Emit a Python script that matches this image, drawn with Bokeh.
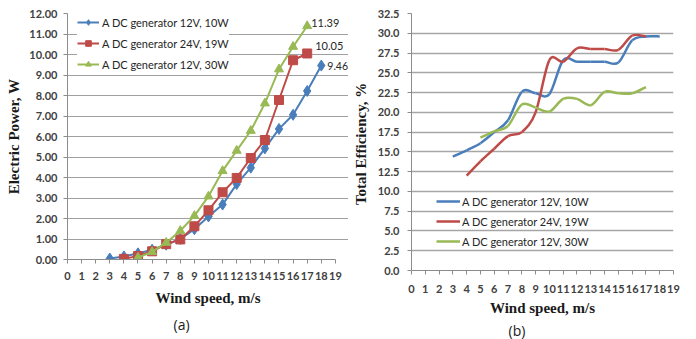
from bokeh.plotting import figure
from bokeh.models import (Range1d, FixedTicker, NumeralTickFormatter, Legend, LegendItem,
                          Label, Title)
from bokeh.layouts import row
from bokeh.embed import file_html
from bokeh.resources import INLINE

# ---------------- data ----------------
series_names = ["A DC generator 12V, 10W", "A DC generator 24V, 19W", "A DC generator 12V, 30W"]

# (a) electric power, W
pow_x_12v10 = [3, 4, 5, 6, 7, 8, 9, 10, 11, 12, 13, 14, 15, 16, 17, 18]
pow_y_12v10 = [0.05, 0.15, 0.30, 0.48, 0.72, 1.00, 1.48, 2.10, 2.68, 3.68, 4.48, 5.42, 6.37, 7.06, 8.22, 9.46]
pow_x_24v19 = [4, 5, 6, 7, 8, 9, 10, 11, 12, 13, 14, 15, 16, 17]
pow_y_24v19 = [0.03, 0.17, 0.40, 0.75, 0.98, 1.62, 2.40, 3.28, 3.98, 4.95, 5.83, 7.78, 9.72, 10.05]
pow_x_12v30 = [5, 6, 7, 8, 9, 10, 11, 12, 13, 14, 15, 16, 17]
pow_y_12v30 = [0.10, 0.37, 0.82, 1.40, 2.13, 3.08, 4.32, 5.31, 6.28, 7.62, 9.28, 10.38, 11.39]

# (b) total efficiency, %
eff_x_12v10 = [3, 4, 5, 6, 7, 8, 9, 10, 11, 12, 13, 14, 15, 16, 17, 18]
eff_y_12v10 = [14.4, 15.2, 16.1, 17.5, 19.0, 22.6, 22.4, 22.3, 26.6, 26.4, 26.4, 26.4, 26.3, 29.1, 29.6, 29.6]
eff_x_24v19 = [4, 5, 6, 7, 8, 9, 10, 11, 12, 13, 14, 15, 16, 17]
eff_y_24v19 = [12.0, 13.8, 15.4, 17.0, 17.5, 20.0, 26.6, 26.4, 28.1, 28.0, 28.0, 27.9, 29.7, 29.6]
eff_x_12v30 = [5, 6, 7, 8, 9, 10, 11, 12, 13, 14, 15, 16, 17]
eff_y_12v30 = [16.8, 17.6, 18.3, 21.0, 20.6, 20.1, 21.7, 21.7, 20.9, 22.6, 22.4, 22.4, 23.2]

x_ticks = list(range(0, 20))
pow_ticks = list(range(0, 13))
eff_ticks = [i * 2.5 for i in range(14)]

colors = ["#4A7EBB", "#BE4B48", "#98B954"]
TICK_FONT = "Lato"
TITLE_FONT = "Liberation Serif"


def style_axes(p, ylabel, yfmt, yticks, x_standoff, x_title_standoff, y_standoff, y_title_standoff):
    p.xaxis.ticker = FixedTicker(ticks=x_ticks)
    p.yaxis.ticker = FixedTicker(ticks=yticks)
    p.yaxis.formatter = NumeralTickFormatter(format=yfmt)
    for ax in (p.xaxis[0], p.yaxis[0]):
        ax.axis_line_color = "#8c8c8c"
        ax.major_tick_line_color = "#8c8c8c"
        ax.major_tick_in = 0
        ax.major_tick_out = 4
        ax.minor_tick_line_color = None
        ax.major_label_text_font = TICK_FONT
        ax.major_label_text_font_size = "11px"
        ax.major_label_text_font_style = "bold"
        ax.major_label_text_color = "#404040"
        ax.axis_label_text_font = TITLE_FONT
        ax.axis_label_text_font_style = "bold"
        ax.axis_label_text_font_size = "15px"
        ax.axis_label_text_color = "#1a1a1a"
    p.xaxis.bounds = (x_ticks[0], x_ticks[-1])
    p.xaxis.axis_label = "Wind speed, m/s"
    p.yaxis.axis_label = ylabel
    p.xaxis.major_label_standoff = x_standoff
    p.xaxis.axis_label_standoff = x_title_standoff
    p.yaxis.major_label_standoff = y_standoff
    p.yaxis.axis_label_standoff = y_title_standoff
    p.xgrid.grid_line_color = None
    p.ygrid.bounds = (x_ticks[0], x_ticks[-1])
    p.outline_line_color = None
    p.background_fill_color = "white"
    p.border_fill_color = "white"


def add_caption(p, text, standoff, offset):
    p.add_layout(Title(text=text, align="left", text_font="Open Sans", text_font_size="14px",
                       text_font_style="normal", text_color="#1a1a1a", standoff=standoff,
                       offset=offset), "below")


# ---------------- (a) ----------------
# frame extends to the canvas edge so the end-value labels are not clipped;
# the axis line and grid stop at 19 through their bounds
pa = figure(frame_width=281, frame_height=246, output_backend="svg", toolbar_location=None,
            x_range=Range1d(0, 19.93), y_range=Range1d(0, 12),
            min_border_left=67, min_border_right=0, min_border_top=13, min_border_bottom=80)
style_axes(pa, "Electric Power, W", "0.00", pow_ticks, 8, 7, 6, 4)
pa.ygrid.grid_line_color = "#a0a0a0"
pa.ygrid.grid_line_width = 1

ra = []
for xs, ys, c, mk, sz in [(pow_x_12v10, pow_y_12v10, colors[0], "diamond", 11),
                          (pow_x_24v19, pow_y_24v19, colors[1], "square", 9),
                          (pow_x_12v30, pow_y_12v30, colors[2], "triangle", 9)]:
    l = pa.line(xs, ys, line_color=c, line_width=2)
    m = pa.scatter(xs, ys, marker=mk, size=sz, fill_color=c, line_color=c)
    ra.append([l, m])

leg_a = Legend(items=[LegendItem(label=n, renderers=r) for n, r in zip(series_names, ra)],
               location=(10, 187), label_text_font="Lato", label_text_font_size="11px",
               label_text_color="#262626", glyph_width=22, glyph_height=14, label_height=16,
               spacing=5, padding=2, margin=0, label_standoff=3,
               background_fill_color="white", background_fill_alpha=1.0, border_line_color=None)
pa.add_layout(leg_a)

for xs, ys, dx, dy, fs in [(pow_x_12v30, pow_y_12v30, 4, 3, "11px"),
                           (pow_x_24v19, pow_y_24v19, 8, 7, "11px"),
                           (pow_x_12v10, pow_y_12v10, 6, 0, "10.5px")]:
    pa.add_layout(Label(x=xs[-1], y=ys[-1], text=f"{ys[-1]:.2f}", x_offset=dx, y_offset=dy,
                        text_font="Lato", text_font_size=fs, text_color="#262626",
                        text_baseline="middle", text_align="left"))

add_caption(pa, "(a)", 8, 106)


# ---------------- (b) ----------------
def bezier_parts(xs, ys):
    n = len(xs)
    out = {k: [] for k in ["x0", "y0", "x1", "y1", "cx0", "cy0", "cx1", "cy1"]}
    for i in range(n - 1):
        a = max(i - 1, 0)
        d = min(i + 2, n - 1)
        out["x0"].append(xs[i]); out["y0"].append(ys[i])
        out["x1"].append(xs[i + 1]); out["y1"].append(ys[i + 1])
        out["cx0"].append(xs[i] + (xs[i + 1] - xs[a]) / 6.0)
        out["cy0"].append(ys[i] + (ys[i + 1] - ys[a]) / 6.0)
        out["cx1"].append(xs[i + 1] - (xs[d] - xs[i]) / 6.0)
        out["cy1"].append(ys[i + 1] - (ys[d] - ys[i]) / 6.0)
    return out


pb = figure(frame_width=262, frame_height=257, output_backend="svg", toolbar_location=None,
            x_range=Range1d(0, 19), y_range=Range1d(0, 32.5),
            min_border_left=63, min_border_right=23, min_border_top=11, min_border_bottom=71)
style_axes(pb, "Total  Efficiency, %", "0.0", eff_ticks, 10, 4, 8, 6)
pb.ygrid.grid_line_color = "#a6a6a6"
pb.ygrid.grid_line_width = 1.5

rb = []
for xs, ys, c in [(eff_x_12v10, eff_y_12v10, colors[0]),
                  (eff_x_24v19, eff_y_24v19, colors[1]),
                  (eff_x_12v30, eff_y_12v30, colors[2])]:
    b = bezier_parts(xs, ys)
    r = pb.bezier(line_color=c, line_width=2.5, **b)
    rb.append([r])

leg_b = Legend(items=[LegendItem(label=n, renderers=r) for n, r in zip(series_names, rb)],
               location=(25, 21), label_text_font="Lato", label_text_font_size="11px",
               label_text_color="#262626", glyph_width=24, glyph_height=14, label_height=16,
               spacing=4, padding=0, margin=0, label_standoff=2,
               background_fill_alpha=0.0, border_line_color=None)
pb.add_layout(leg_b)

add_caption(pb, "(b)", 0, 97)

layout = row(pa, pb)
open("out.html", "w").write(file_html(layout, INLINE))
